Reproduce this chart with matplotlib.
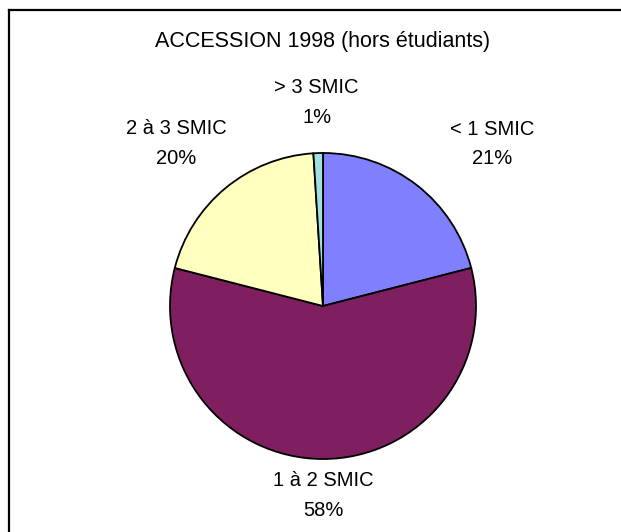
import numpy as np
import matplotlib.pyplot as plt
from matplotlib.lines import Line2D

plt.rcParams['font.family'] = ['Liberation Sans', 'DejaVu Sans']

categories = ['< 1 SMIC', '1 à 2 SMIC', '2 à 3 SMIC', '> 3 SMIC']
values = [21, 58, 20, 1]
colors = ['#8080FF', '#7F1F5F', '#FFFFC0', '#A0E0E0']
# label placement: distance from the centre (in pie radii) and angle (deg)
label_dist = [1.53, 1.24, 1.43, 1.33]
label_ang = [43.8, None, 132, None]

W, H = 621, 532
fig = plt.figure(figsize=(W / 100, H / 100), dpi=100)

cx, cy, r = 323, 306, 153
ax = fig.add_axes([(cx - r) / W, (H - cy - r) / H, 2 * r / W, 2 * r / H])
wedges, _ = ax.pie(values, colors=colors, startangle=90, counterclock=False,
                   wedgeprops=dict(edgecolor='black', linewidth=1.3))
ax.set_xlim(-1, 1)
ax.set_ylim(-1, 1)

for w, cat, v, d, a in zip(wedges, categories, values, label_dist, label_ang):
    if a is None:
        a = (w.theta1 + w.theta2) / 2
    ang = np.deg2rad(a)
    x, y = d * np.cos(ang), d * np.sin(ang)
    ax.text(x, y, f'{cat}\n{v}%', ha='center', va='center', fontsize=14.5,
            linespacing=1.7, clip_on=False)

fig.text(cx / W, 1 - 42 / H, 'ACCESSION 1998 (hors étudiants)',
         ha='center', va='center', fontsize=15.5)

# chart frame (only top and left edges are visible in the crop)
fig.add_artist(Line2D([9 / W, 1], [1 - 10 / H, 1 - 10 / H], color='black', lw=1.6))
fig.add_artist(Line2D([9 / W, 9 / W], [0, 1 - 10 / H], color='black', lw=1.6))

fig.savefig('out.png', dpi=100)
